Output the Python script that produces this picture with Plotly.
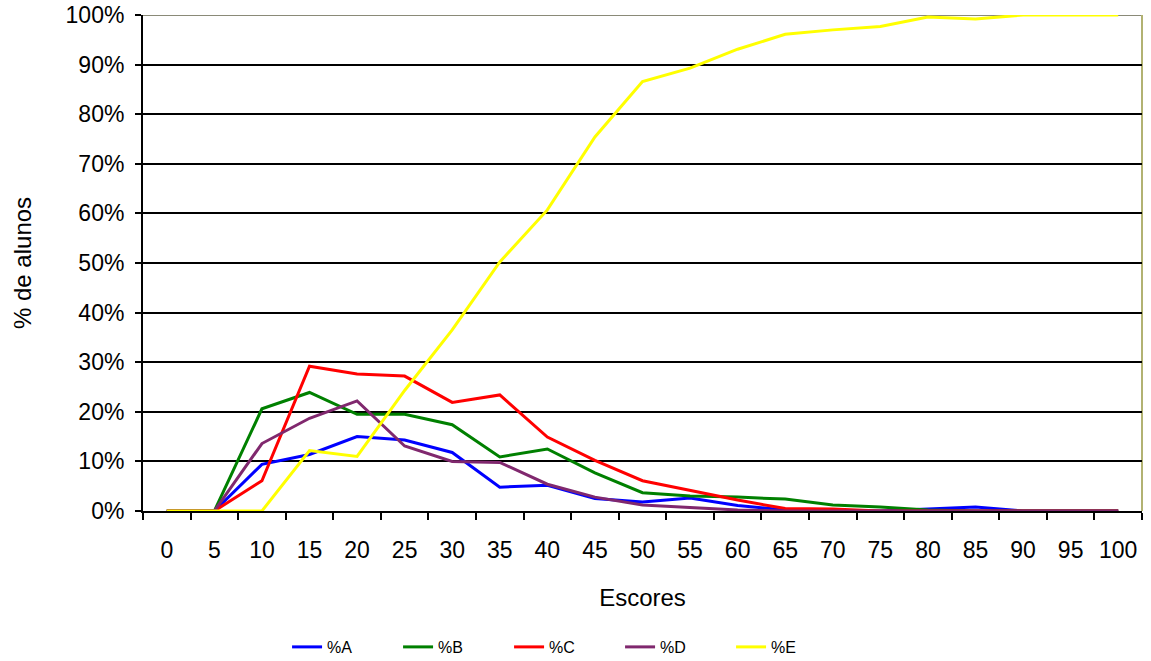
import plotly.graph_objects as go

# Score bands on the x axis
escores = [str(v) for v in range(0, 101, 5)]

# Share of pupils per answer type (fractions)
pct_a = [0, 0, 0.094, 0.114, 0.150, 0.143, 0.118, 0.048, 0.052, 0.025, 0.018, 0.026, 0.011, 0.002, 0, 0, 0.004, 0.008, 0, 0, 0]
pct_b = [0, 0, 0.206, 0.239, 0.195, 0.195, 0.174, 0.109, 0.125, 0.077, 0.037, 0.030, 0.028, 0.024, 0.012, 0.008, 0.002, 0, 0, 0, 0]
pct_c = [0, 0, 0.061, 0.292, 0.276, 0.272, 0.219, 0.234, 0.149, 0.102, 0.061, 0.041, 0.022, 0.005, 0.004, 0, 0, 0, 0, 0, 0]
pct_d = [0, 0, 0.136, 0.187, 0.222, 0.131, 0.100, 0.098, 0.054, 0.028, 0.012, 0.007, 0.002, 0, 0, 0, 0, 0, 0, 0, 0]
pct_e = [0, 0, 0, 0.122, 0.110, 0.243, 0.365, 0.502, 0.607, 0.754, 0.866, 0.893, 0.931, 0.961, 0.970, 0.977, 0.996, 0.992, 1.0, 1.0, 1.0]

series = [
    ("%A", pct_a, "#0000FF"),
    ("%B", pct_b, "#008000"),
    ("%C", pct_c, "#FF0000"),
    ("%D", pct_d, "#80286E"),
    ("%E", pct_e, "#FFFF00"),
]

fig = go.Figure()
for name, vals, color in series:
    fig.add_trace(go.Scatter(
        x=escores, y=vals, name=name, mode="lines",
        line=dict(color=color, width=3),
    ))

font = "Liberation Sans, Arial, sans-serif"

fig.update_layout(
    width=1151, height=661,
    margin=dict(l=143, r=9, t=15, b=150, autoexpand=False),
    paper_bgcolor="white", plot_bgcolor="white",
    font=dict(family=font, size=23, color="black"),
    showlegend=True,
    legend=dict(
        orientation="h", xref="container", x=0.2494, xanchor="left",
        yref="container", y=0.0212, yanchor="middle",
        font=dict(size=16), entrywidth=66, entrywidthmode="pixels",
        bgcolor="rgba(0,0,0,0)",
    ),
    xaxis=dict(
        type="category", range=[-0.5, 20.5], tickson="boundaries", tickangle=0,
        ticks="outside", ticklen=7, tickcolor="black", tickwidth=2,
        showline=True, linecolor="black", linewidth=2, automargin=False,
        showgrid=False, ticklabelstandoff=17, layer="below traces",
        title=dict(text="Escores", standoff=28, font=dict(size=24)),
    ),
    yaxis=dict(
        range=[0, 1], dtick=0.1, tickformat=".0%", ticklabeloverflow="allow",
        ticks="outside", ticklen=6, tickcolor="black", tickwidth=2,
        showline=True, linecolor="black", linewidth=2, automargin=False,
        showgrid=True, gridcolor="black", gridwidth=1.5, zeroline=False,
        ticklabelstandoff=6, layer="below traces",
    ),
    annotations=[
        dict(text="% de alunos", xref="paper", yref="paper", x=-0.1211, y=0.5,
             xanchor="center", yanchor="middle", textangle=-90, showarrow=False,
             font=dict(size=24)),
    ],
    shapes=[
        dict(type="line", xref="paper", yref="y", x0=0, x1=1, y0=1, y1=1,
             line=dict(color="#8A8A78", width=2), layer="between"),
        dict(type="line", xref="paper", yref="paper", x0=1, x1=1, y0=0, y1=1,
             line=dict(color="#B2B272", width=2), layer="between"),
    ],
)

# drop the default 8px body margin so the figure sits at the page corner
fig.write_html("out.html", config={"displayModeBar": False},
               post_script="document.body.style.margin='0';")
